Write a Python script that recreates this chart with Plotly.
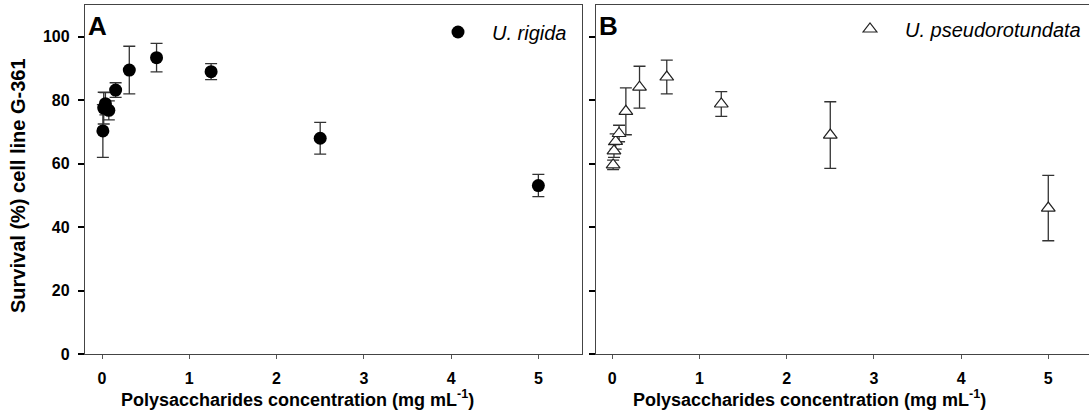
import plotly.graph_objects as go

# Polysaccharide concentrations (mg mL-1), two-fold dilution series
conc = [0.0098, 0.0195, 0.039, 0.078, 0.156, 0.3125, 0.625, 1.25, 2.5, 5.0]

# Survival (%) of G-361 cells with U. rigida polysaccharides
rigida_mean = [70.3, 77.5, 78.9, 76.8, 83.2, 89.5, 93.4, 89.0, 68.0, 53.1]
rigida_sd = [8.3, 5.0, 3.5, 3.0, 2.3, 7.5, 4.5, 2.5, 5.0, 3.5]

# Survival (%) of G-361 cells with U. pseudorotundata polysaccharides
pseudo_mean = [59.6, 64.0, 67.0, 69.5, 76.5, 84.1, 87.3, 78.8, 69.0, 46.0]
pseudo_sd = [1.5, 2.0, 2.4, 2.6, 7.4, 6.6, 5.3, 3.9, 10.5, 10.3]

x_ticks = [0, 1, 2, 3, 4, 5]
y_ticks = [0, 20, 40, 60, 80, 100]

W, H = 1089, 417
FONT = "Liberation Sans, Arial, sans-serif"
AXIS_COLOR = "#444444"

fig = go.Figure()

err_style = dict(type="data", color="#333333", thickness=1.3, width=6)

fig.add_trace(go.Scatter(
    x=conc, y=rigida_mean, mode="markers", name="<i>U. rigida</i>",
    marker=dict(symbol="circle", size=13, color="black"),
    error_y=dict(array=rigida_sd, **err_style),
    xaxis="x", yaxis="y", legend="legend",
))
fig.add_trace(go.Scatter(
    x=conc, y=pseudo_mean, mode="markers", name="<i>U. pseudorotundata</i>",
    marker=dict(symbol="triangle-up", size=12, color="white",
                line=dict(color="#222222", width=1.2)),
    error_y=dict(array=pseudo_sd, **err_style),
    xaxis="x2", yaxis="y2", legend="legend2",
))

tickfont = dict(family=FONT, size=16, color="black", weight="bold")

xcommon = dict(
    tickvals=x_ticks, ticks="outside", ticklen=4, tickwidth=1, tickcolor="#555555",
    showline=True, linecolor=AXIS_COLOR, linewidth=1.3, mirror=True,
    showgrid=False, zeroline=False, tickfont=tickfont, ticklabelstandoff=6,
)
ycommon = dict(
    range=[0, 110], tickvals=y_ticks, ticks="outside", ticklen=6, tickwidth=2,
    tickcolor="black", showline=True, linecolor=AXIS_COLOR, linewidth=1.3,
    showgrid=False, zeroline=False, tickfont=tickfont,
)

legend_font = dict(family=FONT, size=20, color="black")

fig.update_layout(
    width=W, height=H,
    margin=dict(l=0, r=0, t=5, b=63),
    paper_bgcolor="white", plot_bgcolor="white",
    showlegend=True,
    xaxis=dict(domain=[85 / W, 582 / W], range=[-0.195, 5.5], anchor="y", **xcommon),
    yaxis=dict(anchor="x", mirror=True, ticklabelstandoff=5, **ycommon),
    xaxis2=dict(domain=[595.7 / W, 1.0], range=[-0.19, 5.467], anchor="y2", **xcommon),
    yaxis2=dict(anchor="x2", mirror=False, showticklabels=False, **ycommon),
    legend=dict(x=424 / W, y=1 - 27 / 349, xanchor="left", yanchor="middle",
                bgcolor="rgba(0,0,0,0)", itemwidth=58, font=legend_font),
    legend2=dict(x=835 / W, y=1 - 24 / 349, xanchor="left", yanchor="middle",
                 bgcolor="rgba(0,0,0,0)", itemwidth=60, font=legend_font),
)

title_font = dict(family=FONT, size=18, color="black", weight="bold")
x_title = "Polysaccharides concentration (mg mL<sup>-1</sup>)"

annotations = [
    # y-axis title
    dict(text="Survival (%) cell line G-361", textangle=-90,
         xref="paper", yref="paper", x=18 / W, y=(354 - 186) / 349,
         xanchor="center", yanchor="middle", showarrow=False,
         font=dict(family=FONT, size=20, color="black", weight="bold")),
    # x-axis titles
    dict(text=x_title, xref="x", yref="paper", x=2.24, y=0, yshift=-31,
         xanchor="center", yanchor="top", showarrow=False, font=title_font),
    dict(text=x_title, xref="x2", yref="paper", x=2.26, y=0, yshift=-31,
         xanchor="center", yanchor="top", showarrow=False, font=title_font),
    # panel letters
    dict(text="A", xref="paper", yref="paper", x=86 / W, y=1, yshift=-4,
         xanchor="left", yanchor="top", showarrow=False,
         font=dict(family=FONT, size=26, color="black", weight="bold")),
    dict(text="B", xref="paper", yref="paper", x=597 / W, y=1, yshift=-4,
         xanchor="left", yanchor="top", showarrow=False,
         font=dict(family=FONT, size=26, color="black", weight="bold")),
]
fig.update_layout(annotations=annotations)

fig.write_html("out.html")
